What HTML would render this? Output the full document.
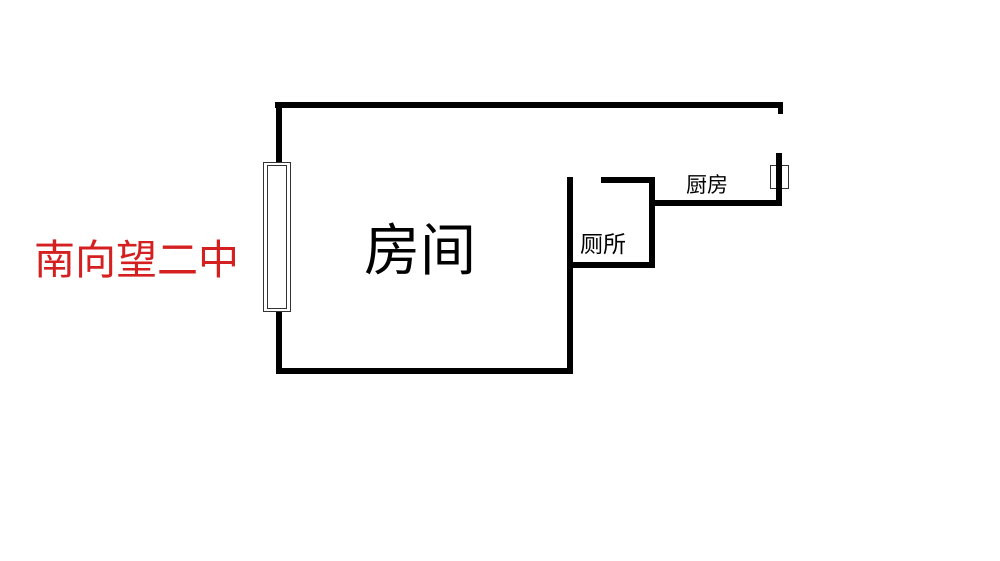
<!DOCTYPE html>
<html><head><meta charset="utf-8"><style>
body{margin:0;width:1000px;height:561px;background:#fff;overflow:hidden;position:relative;font-family:"Liberation Sans","Noto Sans CJK SC",sans-serif}
.w{position:absolute;background:#000}
.t{position:absolute;white-space:nowrap;line-height:1}
</style></head><body>
<div class="w" style="left:275px;top:102px;width:508px;height:6px"></div>
<div class="w" style="left:778px;top:102px;width:5px;height:12px"></div>
<div class="w" style="left:276px;top:102px;width:6px;height:62px"></div>
<div class="w" style="left:276px;top:310px;width:6px;height:64px"></div>
<div style="position:absolute;left:263px;top:162px;width:26px;height:148px;border:1px solid #333;background:#fff"></div>
<div style="position:absolute;left:267px;top:165px;width:18px;height:142px;border:1px solid #333"></div>
<div class="w" style="left:276px;top:368px;width:297px;height:6px"></div>
<div class="w" style="left:567px;top:177px;width:6px;height:197px"></div>
<div class="w" style="left:567px;top:262px;width:88px;height:6px"></div>
<div class="w" style="left:649px;top:177px;width:6px;height:91px"></div>
<div class="w" style="left:601px;top:177px;width:54px;height:6px"></div>
<div class="w" style="left:649px;top:200px;width:133px;height:6px"></div>
<div class="w" style="left:776px;top:153px;width:6px;height:53px"></div>
<div style="position:absolute;left:770px;top:165px;width:19px;height:24px;border:1px solid #333;box-sizing:border-box"></div>
<div class="w" style="left:776px;top:165px;width:6px;height:24px"></div>
<div class="t" style="left:364px;top:223px;font-size:56px">房间</div>
<div class="t" style="left:580px;top:233px;font-size:23px">厕所</div>
<div class="t" style="left:686px;top:175px;font-size:21px">厨房</div>
<div class="t" style="left:34px;top:240px;font-size:41px;color:#d42020">南向望二中</div>
</body></html>
